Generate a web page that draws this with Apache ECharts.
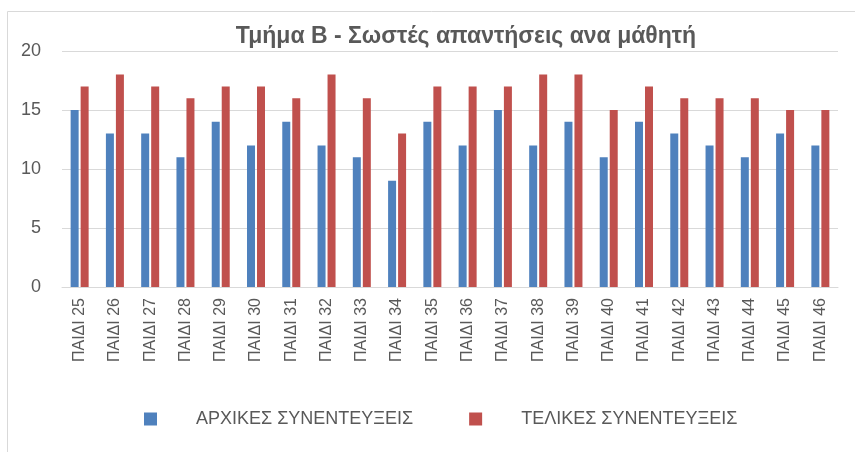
<!DOCTYPE html>
<html><head><meta charset="utf-8">
<script src="https://cdn.jsdelivr.net/npm/echarts@6/dist/echarts.min.js"></script>
<style>html,body{margin:0;padding:0;background:#fff}#c{width:855px;height:452px}</style>
</head><body><div id="c"></div>
<script>
const categories = ['ΠΑΙΔΙ 25','ΠΑΙΔΙ 26','ΠΑΙΔΙ 27','ΠΑΙΔΙ 28','ΠΑΙΔΙ 29','ΠΑΙΔΙ 30','ΠΑΙΔΙ 31','ΠΑΙΔΙ 32','ΠΑΙΔΙ 33','ΠΑΙΔΙ 34','ΠΑΙΔΙ 35','ΠΑΙΔΙ 36','ΠΑΙΔΙ 37','ΠΑΙΔΙ 38','ΠΑΙΔΙ 39','ΠΑΙΔΙ 40','ΠΑΙΔΙ 41','ΠΑΙΔΙ 42','ΠΑΙΔΙ 43','ΠΑΙΔΙ 44','ΠΑΙΔΙ 45','ΠΑΙΔΙ 46'];
const initialValues = [15,13,13,11,14,12,14,12,11,9,14,12,15,12,14,11,14,13,12,11,13,12];
const finalValues = [17,18,17,16,17,17,16,18,16,13,17,17,17,18,18,15,17,16,16,16,15,15];
const seriesNames = ['ΑΡΧΙΚΕΣ ΣΥΝΕΝΤΕΥΞΕΙΣ','ΤΕΛΙΚΕΣ ΣΥΝΕΝΤΕΥΞΕΙΣ'];
const titleText = 'Τμήμα Β - Σωστές απαντήσεις ανα μάθητή';

const chart = echarts.init(document.getElementById('c'));
const grey = '#595959';
chart.setOption({
  animation: false,
  graphic: [{type:'rect', shape:{x:7.5,y:11.5,width:860,height:460}, style:{fill:'none', stroke:'#d9d9d9', lineWidth:1}, silent:true}],
  title: {text: titleText, left: 461, textAlign:'center', top: 20,
    textStyle:{fontFamily:'Liberation Sans', fontWeight:'bold', fontSize:23, color:grey}},
  legend: {top: 405, left: 139, itemWidth: 13, itemHeight: 13, itemGap: 56, icon:'rect',
    textStyle:{fontFamily:'Liberation Sans', fontSize:18, color:grey, padding:[0,0,0,34]}},
  grid: {left: 62, right: 17, top: 51, bottom: 165, containLabel: false},
  xAxis: {type:'category', data: categories,
    axisLine:{lineStyle:{color:'#d9d9d9'}}, axisTick:{show:false},
    axisLabel:{rotate:90, color:grey, fontFamily:'Liberation Sans', fontSize:16, margin:11}},
  yAxis: {type:'value', min:0, max:20, interval:5,
    axisLine:{show:false}, axisTick:{show:false},
    splitLine:{lineStyle:{color:'#d9d9d9'}},
    axisLabel:{color:grey, fontFamily:'Liberation Sans', fontSize:18, margin:21}},
  series: [
    {name: seriesNames[0], type:'bar', data: initialValues, barWidth:8, barGap:'25%', itemStyle:{color:'#4F81BD'}},
    {name: seriesNames[1], type:'bar', data: finalValues, barWidth:8, barGap:'25%', itemStyle:{color:'#C0504D'}}
  ]
});
</script></body></html>
